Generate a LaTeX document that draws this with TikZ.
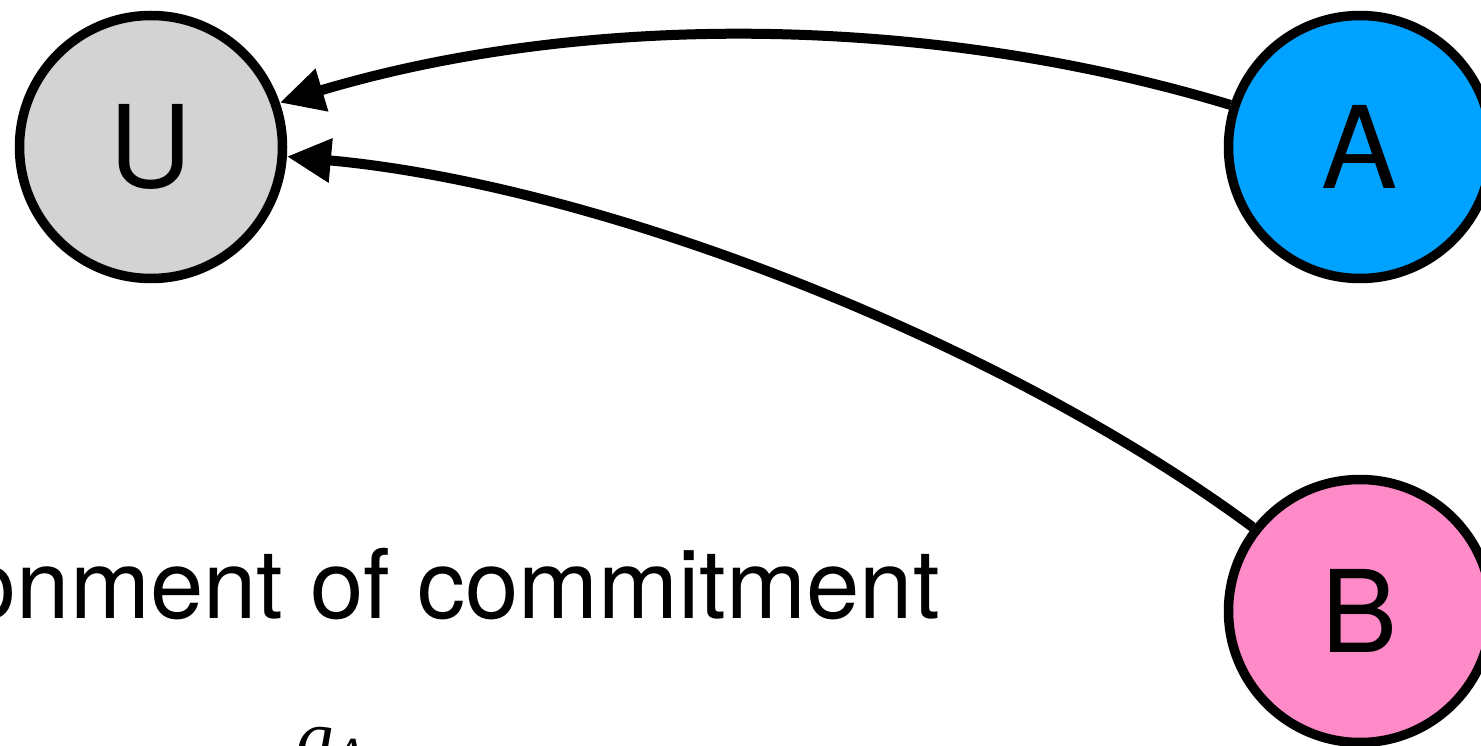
\documentclass[tikz,border=0pt]{standalone}
\usepackage{fontspec}
\setmainfont{TeX Gyre Heros}
\newfontfamily\mathserif{Liberation Serif}
\usetikzlibrary{arrows.meta}
\definecolor{ugray}{RGB}{211,211,211}
\definecolor{ablue}{RGB}{0,162,255}
\definecolor{bpink}{RGB}{255,138,200}
\tikzset{
  party/.style={circle, draw=black, line width=9.5pt, minimum size=263pt, inner sep=0pt,
    font=\fontsize{114}{114}\selectfont},
  msgarrow/.style={line width=10pt, -{Triangle[length=44pt,width=42pt]}},
}
\begin{document}
\begin{tikzpicture}[x=1pt,y=-1pt]
\useasboundingbox (0,0) rectangle (1481,746);
\node[party, fill=ugray] (U) at (151,147) {U};
\node[party, fill=ablue] (A) at (1360,147) {A};
\node[party, fill=bpink] (B) at (1360,611) {B};
\draw[msgarrow] (A.162) .. controls (926,13) and (583,12) .. (U.19);
\draw[msgarrow] (B.142) .. controls (1000,340) and (600,185) .. (U.-4);
\node[anchor=base east, inner sep=0pt, font=\fontsize{96}{96}\selectfont] (txt) at (940,618) {onment of commitment};
\node[anchor=base west, inner sep=0pt, font=\fontsize{75}{75}\selectfont\mathserif\itshape] (g) at (296,762) {g\raisebox{-11pt}{\fontsize{52}{52}\selectfont A}};
\end{tikzpicture}
\end{document}
